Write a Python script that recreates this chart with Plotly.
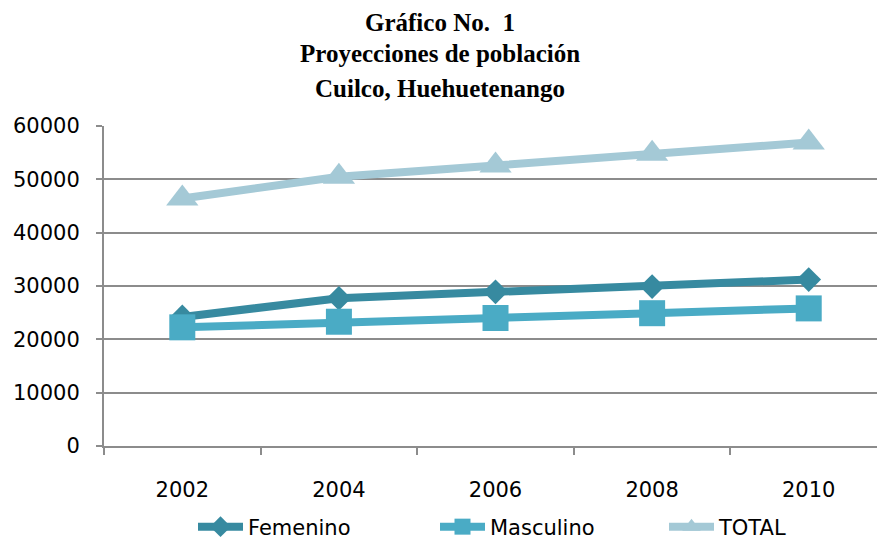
import plotly.graph_objects as go

years = ["2002", "2004", "2006", "2008", "2010"]
femenino = [24200, 27700, 28900, 29900, 31200]
masculino = [22250, 23300, 24000, 24900, 25800]
total = [46400, 50500, 52600, 54800, 56900]
title_lines = ["Gráfico No.  1", "Proyecciones de población", "Cuilco, Huehuetenango"]

fig = go.Figure()
series = [
    ("Femenino", femenino, "#378AA0", "diamond", 19, "legend", 193),
    ("Masculino", masculino, "#4AABC5", "square", 26, "legend2", 435),
    ("TOTAL", total, "#A4C9D6", "triangle-up", 28, "legend3", 664),
]
legend_font = dict(family="DejaVu Sans", size=21, color="black")
legends = {}
for name, vals, color, sym, size, leg, lx in series:
    fig.add_trace(go.Scatter(
        x=years, y=vals, name=name, mode="lines+markers",
        line=dict(color=color, width=8),
        marker=dict(symbol=sym, size=size, color=color),
        cliponaxis=False, legend=leg,
    ))
    legends[leg] = dict(
        orientation="h", x=(lx - 104) / 773, xanchor="left", xref="paper",
        y=1 - 527 / 542, yanchor="middle", yref="container",
        font=legend_font, itemwidth=45, bgcolor="rgba(0,0,0,0)",
    )

PLOT_TOP, PLOT_H = 126, 320
for txt, ypx in zip(title_lines, [22, 54, 88]):
    fig.add_annotation(
        text=txt, xref="paper", x=(440 - 104) / 773, xanchor="center",
        yref="paper", y=(PLOT_TOP + PLOT_H - ypx) / PLOT_H, yanchor="middle",
        showarrow=False,
        font=dict(family="Liberation Serif", size=25, color="black", weight="bold"),
    )

fig.update_layout(
    width=877, height=542,
    margin=dict(l=104, r=0, t=126, b=96),
    paper_bgcolor="white", plot_bgcolor="white",
    showlegend=True,
    **legends,
)
fig.update_xaxes(
    type="category", range=[-0.5, 4.436],
    showgrid=False, showline=True, linecolor="#8c8c8c", linewidth=2,
    ticks="outside", tickson="boundaries", ticklen=7, tickcolor="#8c8c8c", tickwidth=2,
    tickfont=dict(family="DejaVu Sans", size=21, color="black"),
    ticklabelstandoff=24,
)
fig.update_yaxes(
    range=[0, 60000], dtick=10000, tickformat="d",
    showgrid=True, gridcolor="#8c8c8c", gridwidth=2,
    showline=True, linecolor="#8c8c8c", linewidth=2,
    ticks="outside", ticklen=6, tickcolor="#8c8c8c", tickwidth=2,
    tickfont=dict(family="DejaVu Sans", size=21, color="black"),
    ticklabelstandoff=12,
    zeroline=False,
)

fig.write_html("out.html", config={"displayModeBar": False},
               post_script="document.body.style.margin='0px';")
